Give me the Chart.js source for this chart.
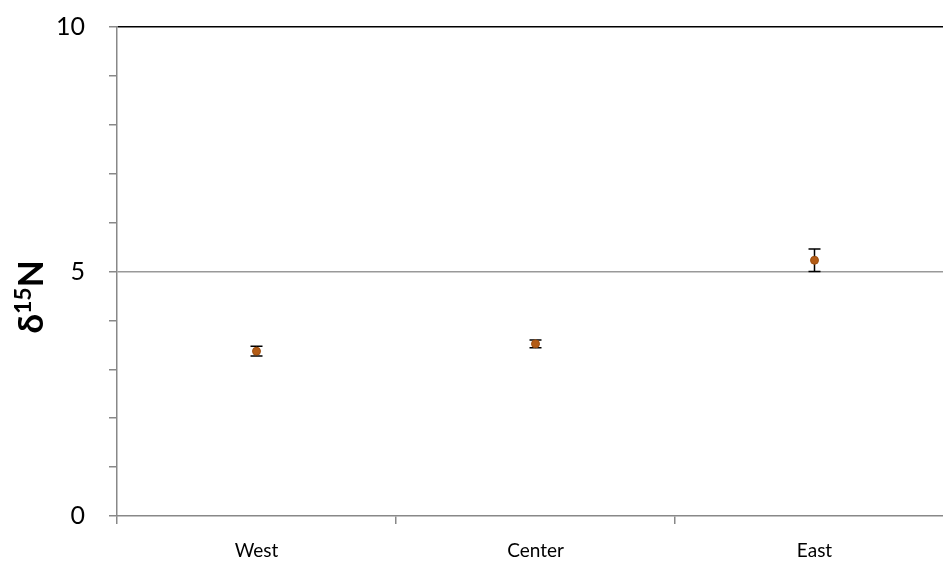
<!DOCTYPE html>
<html lang="en">
<head>
<meta charset="UTF-8">
<title>δ15N by site</title>
<style>
    html, body { margin: 0; padding: 0; background: #fff; overflow: hidden; }
    .wrap { width: 960px; height: 562px; }
</style>
</head>
<body>
<div class="wrap"><canvas id="chart"></canvas></div>
<script src="https://cdn.jsdelivr.net/npm/chart.js"></script>
<script>
    // sites and nitrogen isotope means with their errors
    const sites = ['West', 'Center', 'East'];
    const meanN = [3.37, 3.52, 5.23];
    const errN = [0.10, 0.08, 0.23];
    const yTicks = [0, 5, 10];

    const FONT = 'Lato, "Open Sans", sans-serif';

    // whiskers drawn behind the points
    const errorBars = {
        id: 'errorBars',
        beforeDatasetsDraw(chart) {
            const { ctx, scales: { x, y } } = chart;
            ctx.save();
            ctx.strokeStyle = '#000';
            ctx.lineWidth = 1.5;
            meanN.forEach((m, i) => {
                const px = x.getPixelForValue(i);
                const top = y.getPixelForValue(m + errN[i]);
                const bot = y.getPixelForValue(m - errN[i]);
                ctx.beginPath();
                ctx.moveTo(px, top); ctx.lineTo(px, bot);
                ctx.moveTo(px - 6, top); ctx.lineTo(px + 6, top);
                ctx.moveTo(px - 6, bot); ctx.lineTo(px + 6, bot);
                ctx.stroke();
            });
            ctx.restore();
        }
    };

    // rotated axis title with superscript mass number
    const yTitle = {
        id: 'yTitle',
        afterDraw(chart) {
            const { ctx } = chart;
            const big = 'bold 35px ' + FONT, small = 'bold 23px ' + FONT;
            ctx.save();
            ctx.font = big; const w1 = ctx.measureText('δ').width;
            const w3 = ctx.measureText('N').width;
            ctx.font = small; const w2 = ctx.measureText('15').width;
            const total = w1 + w2 + w3;
            ctx.translate(43, 297);
            ctx.rotate(-Math.PI / 2);
            ctx.fillStyle = '#000';
            ctx.textBaseline = 'alphabetic';
            let cx = -total / 2;
            ctx.font = big; ctx.fillText('δ', cx, 0); cx += w1;
            ctx.font = small; ctx.fillText('15', cx, -12); cx += w2;
            ctx.font = big; ctx.fillText('N', cx, 0);
            ctx.restore();
        }
    };

    new Chart(document.getElementById('chart'), {
        type: 'line',
        data: {
            labels: sites,
            datasets: [{
                data: meanN,
                showLine: false,
                pointRadius: 4,
                pointBackgroundColor: '#B35C16',
                pointBorderColor: '#9C4E10',
                pointBorderWidth: 1
            }]
        },
        options: {
            responsive: true,
            maintainAspectRatio: false,
            animation: false,
            layout: { autoPadding: false, padding: { top: 27, right: 6, left: 0, bottom: 0 } },
            plugins: { legend: { display: false }, tooltip: { enabled: false } },
            scales: {
                x: {
                    offset: true,
                    grid: {
                        offset: true,
                        drawOnChartArea: false,
                        tickLength: 8,
                        tickColor: '#888',
                        lineWidth: 1.5
                    },
                    border: { color: '#888', width: 1.5 },
                    ticks: { color: '#000', padding: 15, font: { family: FONT, size: 19 } },
                    afterFit(scale) { scale.height = 46; scale.paddingLeft = 0; scale.paddingRight = 0; }
                },
                y: {
                    min: 0,
                    max: 10,
                    grid: {
                        tickLength: 8,
                        tickColor: '#888',
                        lineWidth: 1.5,
                        color: ctx => {
                            const v = ctx.tick && ctx.tick.value;
                            if (v === 10) return '#000';
                            if (v === 5) return '#999';
                            return 'rgba(0,0,0,0)';
                        }
                    },
                    border: { color: '#888', width: 1.5 },
                    ticks: {
                        stepSize: 1,
                        color: '#000',
                        padding: 24,
                        font: { family: FONT, size: 25 },
                        callback: v => yTicks.includes(v) ? String(v) : ''
                    },
                    afterFit(scale) { scale.width = 117; scale.paddingTop = 0; scale.paddingBottom = 0; }
                }
            }
        },
        plugins: [errorBars, yTitle]
    });
</script>
</body>
</html>
